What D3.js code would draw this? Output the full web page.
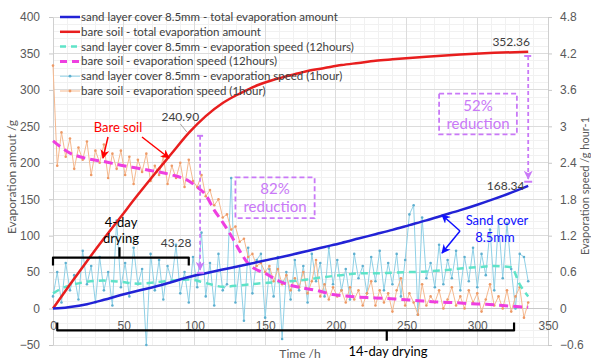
<!DOCTYPE html>
<html>
<head>
<meta charset="utf-8">
<script src="https://cdn.jsdelivr.net/npm/d3@7"></script>
<style>
  body { margin: 0; background: #fff; }
  svg { display: block; font-family: Lato, "Liberation Sans", sans-serif; }
</style>
</head>
<body>
<svg id="chart" width="591" height="360"></svg>
<script>
// cumulative evaporation amount (g)
const bareTotalHours = [0, 12, 24, 36, 48, 60, 72, 84, 96, 108, 120, 132, 144, 156, 168, 180, 192, 204, 216, 228, 240, 264, 288, 312, 336];
const bareTotal = [0, 33, 65, 96, 126, 156, 185, 213, 240.9, 264, 282, 295, 306, 314, 320, 326, 330, 334, 337, 340, 342, 345.5, 348.5, 350.8, 352.36];

const sandTotalHours = [0, 6, 12, 24, 36, 48, 60, 72, 84, 96, 108, 120, 132, 144, 156, 168, 180, 192, 204, 216, 228, 240, 252, 264, 276, 288, 300, 312, 324, 336];
const sandTotal = [0, 0.6, 2, 6, 12, 18.5, 24.5, 30, 36.5, 43.28, 48.5, 53.5, 58.5, 63.5, 68.5, 73.5, 79, 84.5, 90, 96, 102, 108, 114.5, 121, 128, 135, 142.5, 150.5, 159, 168.34];

// evaporation speed, 12 hour average (g/hour)
const bare12Hours = [0, 12, 24, 36, 48, 60, 72, 84, 96, 102, 108, 114, 120, 126, 132, 138, 144, 150, 156, 162, 174, 186, 198, 210, 222, 234, 246, 258, 270, 282, 294, 306, 318, 330, 336];
const bare12 = [2.76, 2.56, 2.47, 2.42, 2.36, 2.31, 2.26, 2.2, 2.1, 2.0, 1.87, 1.62, 1.42, 1.2, 0.95, 0.74, 0.64, 0.58, 0.5, 0.43, 0.35, 0.3, 0.23, 0.2, 0.18, 0.17, 0.15, 0.13, 0.11, 0.1, 0.08, 0.07, 0.05, 0.03, 0.02];

const sand12Hours = [0, 6, 12, 24, 36, 48, 60, 72, 84, 96, 108, 120, 132, 144, 156, 168, 180, 192, 204, 216, 228, 240, 252, 264, 276, 288, 300, 312, 324, 330, 336];
const sand12 = [0.25, 0.33, 0.38, 0.44, 0.46, 0.44, 0.41, 0.43, 0.46, 0.48, 0.42, 0.36, 0.38, 0.41, 0.43, 0.45, 0.48, 0.52, 0.55, 0.58, 0.58, 0.59, 0.6, 0.61, 0.63, 0.66, 0.68, 0.7, 0.68, 0.4, 0.2];

// evaporation speed, hourly readings (one value every 3 hours)
const hourStep = 3;
const bare1 = [
  4.0, 2.35, 2.9, 2.5, 2.8, 2.3, 2.65, 2.45, 2.75, 2.2,
  2.6, 2.4, 2.7, 2.15, 2.55, 2.3, 2.6, 2.2, 2.5, 2.05,
  2.45, 2.25, 2.55, 2.1, 2.35, 2.2, 2.5, 2.05, 2.35, 2.15,
  2.4, 2.0, 2.45, 2.1, 2.0, 2.2, 1.85, 1.95, 1.7, 1.8,
  1.5, 1.55, 1.3, 1.35, 1.1, 1.15, 0.85, 0.9, 0.7, 0.75,
  0.6, 0.7, 0.45, 0.65, 0.4, 0.55, 0.3, 0.5, 0.35, 0.6,
  0.25, 0.45, 0.8, 0.2, 0.4, 0.15, 0.35, 0.2, 0.3, 0.1,
  0.35, 0.15, 0.3, 0.05, 0.25, 0.45, 0.05, 0.3, 0.1, 0.25,
  -0.05, 0.3, 0.5, 0.05, 0.25, 0.1, -0.1, 0.4, 0.05, 0.2,
  0.1, 0.3, 0.0, 0.15, 0.35, 0.05, 0.2, 0.0, 0.3, 0.1,
  0.25, -0.05, 0.15, 0.4, 0.05, 0.2, 0.0, 0.3, -0.05, 0.2,
  0.35, -0.15, 0.1
];
const sand1 = [
  0.2, 0.6, 0.1, 0.75, 0.3, 0.55, 0.15, 0.95, 0.4, 0.7,
  0.1, 0.85, 0.3, 0.6, 0.05, 1.45, 0.35, 0.75, 0.2, 1.0,
  0.4, 0.65, -0.6, 0.9, 0.3, 0.8, 0.15, 0.7, 0.45, 1.05,
  0.25, 0.6, 0.1, 0.85, 0.35, 1.25, 0.2, 0.75, 0.05, 0.9,
  0.3, 0.4, 2.15, 0.1, 0.7, -0.2, 1.0, 0.25, 0.8, 0.9,
  -0.15, 0.65, 0.2, 0.85, -0.5, 0.6, 0.15, 0.8, 0.3, 0.7,
  0.1, 0.9, 0.45, 0.75, 0.2, 1.0, 0.4, 0.8, 0.3, 0.65,
  0.15, 0.9, 0.5, 0.7, 0.25, 0.85, 0.45, 0.95, 0.3, 0.75,
  0.4, 0.9, 0.2, 0.8, 1.55, 1.7, -0.1, 1.5, 0.5, 0.75,
  0.35, 1.05, 0.4, 0.8, 0.5, 0.95, 0.3, 0.85, 0.45, 1.0,
  0.35, 0.9, 0.55, 1.3, 0.3, 1.45, 0.5, 1.4, 0.65, 0.0,
  0.9, 0.85, 0.45
];

const xTicks = [0, 50, 100, 150, 200, 250, 300, 350];
const leftTicks = [-50, 0, 50, 100, 150, 200, 250, 300, 350, 400];
const rightTicks = [-0.6, 0, 0.6, 1.2, 1.8, 2.4, 3, 3.6, 4.2, 4.8];

const legendLabels = [
  'sand layer cover 8.5mm - total evaporation amount',
  'bare soil - total evaporation amount',
  'sand layer cover 8.5mm - evaporation speed (12hours)',
  'bare soil - evaporation speed (12hours)',
  'sand layer cover 8.5mm - evaporation speed (1hour)',
  'bare soil - evaporation speed (1hour)'
];

// ---- layout
const svg = d3.select('#chart');
const x = d3.scaleLinear().domain([0, 350]).range([53, 548]);
const yL = d3.scaleLinear().domain([-50, 400]).range([345, 17]);
const yR = d3.scaleLinear().domain([-0.6, 4.8]).range([345, 17]);

const violet = '#c979f7';
const defs = svg.append('defs');
function arrowMarker(id, color, size) {
  defs.append('marker')
    .attr('id', id)
    .attr('viewBox', '0 0 10 10')
    .attr('refX', 9).attr('refY', 5)
    .attr('markerUnits', 'userSpaceOnUse')
    .attr('markerWidth', size).attr('markerHeight', size)
    .attr('orient', 'auto')
    .append('path')
      .attr('d', 'M0,0 L10,5 L0,10 L3,5 Z')
      .attr('fill', color);
}
arrowMarker('arrP', violet, 9);
arrowMarker('arrR', '#ff0000', 9);
arrowMarker('arrB', '#1010ff', 9);

// minor grid
const grid = svg.append('g');
grid.selectAll('.vmin').data(d3.range(0, 351, 10)).join('line')
  .attr('x1', d => x(d)).attr('x2', d => x(d))
  .attr('y1', yL(400)).attr('y2', yL(-50))
  .attr('stroke', '#f1f1f1').attr('shape-rendering', 'crispEdges');
grid.selectAll('.hmin').data(d3.range(-50, 401, 10)).join('line')
  .attr('y1', d => yL(d)).attr('y2', d => yL(d))
  .attr('x1', x(0)).attr('x2', x(350))
  .attr('stroke', '#f1f1f1').attr('shape-rendering', 'crispEdges');
// major grid
grid.selectAll('.vmaj').data(xTicks).join('line')
  .attr('x1', d => x(d)).attr('x2', d => x(d))
  .attr('y1', yL(400)).attr('y2', yL(-50))
  .attr('stroke', '#dcdcdc').attr('shape-rendering', 'crispEdges');
grid.selectAll('.hmaj').data(leftTicks).join('line')
  .attr('y1', d => yL(d)).attr('y2', d => yL(d))
  .attr('x1', x(0)).attr('x2', x(350))
  .attr('stroke', d => d === 0 ? '#c8c8c8' : '#dcdcdc').attr('shape-rendering', 'crispEdges');

// axes
function styleAxis(g) {
  g.select('.domain').attr('stroke', '#d0d0d0');
  g.selectAll('.tick line').attr('stroke', '#c8c8c8');
  g.selectAll('.tick text').attr('fill', '#595959').attr('font-size', 12);
}
svg.append('g').attr('transform', `translate(${x(0)},0)`)
  .call(d3.axisLeft(yL).tickValues(leftTicks).tickSize(4).tickPadding(9).tickSizeOuter(0))
  .call(styleAxis);
svg.append('g').attr('transform', `translate(${x(350)},0)`)
  .call(d3.axisRight(yR).tickValues(rightTicks).tickSize(4).tickPadding(8).tickSizeOuter(0).tickFormat(d3.format('~g')))
  .call(styleAxis);
svg.append('g').attr('transform', `translate(0,${yL(0)})`)
  .call(d3.axisBottom(x).tickValues(xTicks).tickSize(0).tickPadding(13))
  .call(styleAxis)
  .call(g => g.select('.domain').remove());

// axis titles
svg.append('text').attr('transform', `translate(16,177) rotate(-90)`)
  .attr('text-anchor', 'middle').attr('font-size', 12).attr('fill', '#595959')
  .text('Evaporation amout /g');
svg.append('text').attr('transform', `translate(589,186) rotate(-90)`)
  .attr('text-anchor', 'middle').attr('font-size', 11).attr('fill', '#595959')
  .text('Evaporation speed /g hour-1');
svg.append('text').attr('x', 300).attr('y', 358)
  .attr('text-anchor', 'middle').attr('font-size', 12).attr('fill', '#595959')
  .text('Time /h');

// ---- series
const zip = (hs, vs) => vs.map((v, i) => [hs[i], v]);
const byStep = vs => vs.map((v, i) => [i * hourStep, v]);
const lineL = d3.line().x(d => x(d[0])).y(d => yL(d[1])).curve(d3.curveMonotoneX);
const lineR = d3.line().x(d => x(d[0])).y(d => yR(d[1])).curve(d3.curveMonotoneX);
const lineRaw = d3.line().x(d => x(d[0])).y(d => yR(d[1]));

const hourly = [
  { data: byStep(sand1), line: '#8fd0e6', dot: '#5fb0d0' },
  { data: byStep(bare1), line: '#f5b98f', dot: '#ee9a66' }
];
hourly.forEach(s => {
  svg.append('path').attr('d', lineRaw(s.data))
    .attr('fill', 'none').attr('stroke', s.line).attr('stroke-width', 1);
  svg.append('g').selectAll('circle').data(s.data).join('circle')
    .attr('cx', d => x(d[0])).attr('cy', d => yR(d[1])).attr('r', 1.3)
    .attr('fill', s.dot);
});

svg.append('path').attr('d', lineR(zip(sand12Hours, sand12)))
  .attr('fill', 'none').attr('stroke', '#5fe3c8').attr('stroke-width', 2.5)
  .attr('stroke-dasharray', '7,5');
svg.append('path').attr('d', lineR(zip(bare12Hours, bare12)))
  .attr('fill', 'none').attr('stroke', '#ee3fe0').attr('stroke-width', 3)
  .attr('stroke-dasharray', '9,5');

svg.append('path').attr('d', lineL(zip(bareTotalHours, bareTotal)))
  .attr('fill', 'none').attr('stroke', '#e81e1e').attr('stroke-width', 2.5);
svg.append('path').attr('d', lineL(zip(sandTotalHours, sandTotal)))
  .attr('fill', 'none').attr('stroke', '#2222d6').attr('stroke-width', 2.5);

// ---- legend
const legendStyles = [
  { stroke: '#2222d6', w: 2.5, dash: null, dot: null },
  { stroke: '#e81e1e', w: 2.5, dash: null, dot: null },
  { stroke: '#5fe3c8', w: 2.5, dash: '6,5', dot: null },
  { stroke: '#ee3fe0', w: 3, dash: '7,5', dot: null },
  { stroke: '#8fd0e6', w: 1, dash: null, dot: '#5fb0d0' },
  { stroke: '#f5b98f', w: 1, dash: null, dot: '#ee9a66' }
];
const legend = svg.append('g');
legendLabels.forEach((label, i) => {
  const ly = 17 + i * 14.8;
  const st = legendStyles[i];
  legend.append('line').attr('x1', 60).attr('x2', 80).attr('y1', ly).attr('y2', ly)
    .attr('stroke', st.stroke).attr('stroke-width', st.w)
    .attr('stroke-dasharray', st.dash);
  if (st.dot) legend.append('circle').attr('cx', 70).attr('cy', ly).attr('r', 1.4).attr('fill', st.dot);
  legend.append('text').attr('x', 81).attr('y', ly + 4)
    .attr('font-size', 11.5).attr('fill', '#404040').text(label);
});

// ---- annotations
const note = svg.append('g');
function txt(px, py, s, color, size, anchor) {
  note.append('text').attr('x', px).attr('y', py)
    .attr('text-anchor', anchor || 'middle').attr('font-size', size)
    .attr('fill', color).text(s);
}
// value labels
txt(x(90), yL(240.9) - 12, '240.90', '#404040', 12);
note.append('line').attr('x1', x(95) - 7).attr('y1', yL(240.9) - 9).attr('x2', x(96) - 2).attr('y2', yL(240.9) - 1)
  .attr('stroke', '#a6a6a6');
txt(x(324), yL(352.36) - 6, '352.36', '#404040', 12);
txt(x(320), yL(168.34) + 4, '168.34', '#404040', 12);
txt(x(87), yL(43.28) - 30, '43.28', '#404040', 12);

// reduction arrows
function reduction(t, top, bottom, tickW) {
  note.append('line').attr('x1', x(t)).attr('x2', x(t)).attr('y1', yL(top)).attr('y2', yL(bottom) - 3)
    .attr('stroke', violet).attr('stroke-width', 1.8).attr('stroke-dasharray', '4,3')
    .attr('marker-end', 'url(#arrP)');
  note.append('line').attr('x1', x(t) - tickW).attr('x2', x(t) + 3).attr('y1', yL(top)).attr('y2', yL(top))
    .attr('stroke', violet).attr('stroke-width', 2);
  note.append('line').attr('x1', x(t) - tickW).attr('x2', x(t) + 4).attr('y1', yL(bottom)).attr('y2', yL(bottom))
    .attr('stroke', violet).attr('stroke-width', 2);
}
reduction(104, 237, 49, 3);
reduction(336, 346.5, 174, 4);

function box(t0, t1, v0, v1, l1, l2) {
  note.append('rect').attr('x', x(t0)).attr('y', yL(v1))
    .attr('width', x(t1) - x(t0)).attr('height', yL(v0) - yL(v1))
    .attr('fill', 'none').attr('stroke', violet).attr('stroke-width', 1.8).attr('stroke-dasharray', '5,3');
  const cx = (x(t0) + x(t1)) / 2;
  txt(cx, yL(v1) + 17, l1, violet, 15);
  txt(cx, yL(v1) + 35, l2, violet, 15);
}
box(129, 185, 124, 180, '82%', 'reduction');
box(273, 328, 239, 295, '52%', 'reduction');

// labels with arrows
txt(118, 132, 'Bare soil', '#ff0000', 13);
note.append('line').attr('x1', 108).attr('y1', 137).attr('x2', 103).attr('y2', 158)
  .attr('stroke', '#ff0000').attr('stroke-width', 1.5).attr('marker-end', 'url(#arrR)');
note.append('line').attr('x1', 142).attr('y1', 137).attr('x2', 169).attr('y2', 158)
  .attr('stroke', '#ff0000').attr('stroke-width', 1.5).attr('marker-end', 'url(#arrR)');

txt(497, 225, 'Sand cover', '#1010ff', 13);
txt(495, 242, '8.5mm', '#1010ff', 13);
note.append('line').attr('x1', 460).attr('y1', 231).attr('x2', 442).attr('y2', 215)
  .attr('stroke', '#1010ff').attr('stroke-width', 1.5).attr('marker-end', 'url(#arrB)');
note.append('line').attr('x1', 460).attr('y1', 231).attr('x2', 442).attr('y2', 253)
  .attr('stroke', '#1010ff').attr('stroke-width', 1.5).attr('marker-end', 'url(#arrB)');

// drying period brackets
function bracket(t0, t1, tm, v, vEnd, vTip) {
  const p = d3.path();
  p.moveTo(x(t0), yL(vEnd)); p.lineTo(x(t0), yL(v));
  p.lineTo(x(tm), yL(v)); p.lineTo(x(tm), yL(vTip)); p.moveTo(x(tm), yL(v));
  p.lineTo(x(t1), yL(v)); p.lineTo(x(t1), yL(vEnd));
  note.append('path').attr('d', p.toString()).attr('fill', 'none')
    .attr('stroke', '#000').attr('stroke-width', 2.2).attr('stroke-linejoin', 'round');
}
bracket(0, 96, 47, 70, 59, 84);
txt(121, 227, '4-day', '#000', 13);
txt(121, 243, 'drying', '#000', 13);
bracket(3, 326, 236, -30, -19, -44);
txt(388, 356, '14-day drying', '#000', 13);
</script>
</body>
</html>
